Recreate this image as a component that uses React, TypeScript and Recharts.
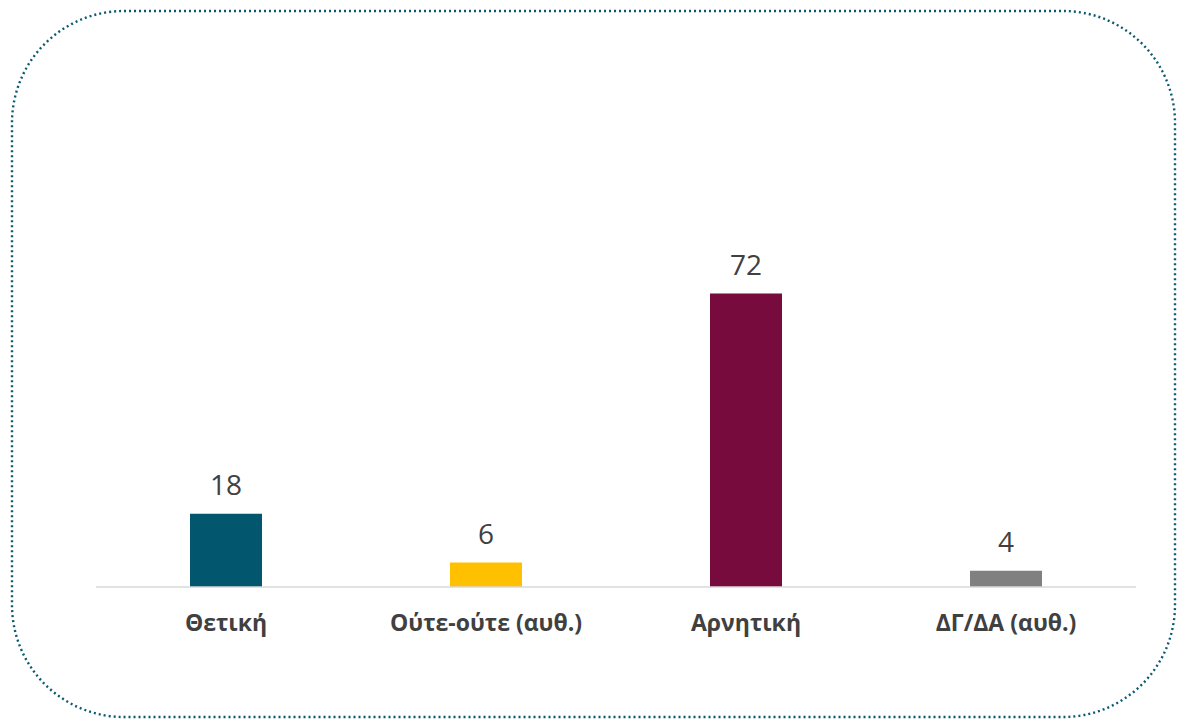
import React from "react";
import { BarChart, Bar, XAxis, YAxis, Cell, LabelList } from "recharts";

const categories = ["Θετική", "Ούτε-ούτε (αυθ.)", "Αρνητική", "ΔΓ/ΔΑ (αυθ.)"];
const values = [18, 6, 72, 4];
const colors = ["#02566D", "#FFC000", "#770B3D", "#808080"];

const data = categories.map((name, i) => ({ name, value: values[i] }));

const FONT = "'Open Sans', 'Noto Sans', sans-serif";

const CategoryTick = (props: any) => {
  const { x, y, payload } = props;
  return (
    <text
      x={x}
      y={y + 36}
      textAnchor="middle"
      fill="#404040"
      fontFamily={FONT}
      fontWeight={700}
      fontSize={23}
    >
      {payload.value}
    </text>
  );
};

export default function App() {
  return (
    <div style={{ position: "absolute", left: 0, top: 0, width: 1178, height: 721, background: "#fff" }}>
      <svg width={1178} height={721} style={{ position: "absolute", left: 0, top: 0 }}>
        <rect
          x={12}
          y={11}
          width={1163}
          height={706}
          rx={112}
          ry={112}
          fill="none"
          stroke="#0B5A72"
          strokeWidth={2.4}
          strokeDasharray="2 3"
        />
      </svg>
      <div style={{ position: "absolute", left: 0, top: 0 }}>
        <BarChart
          width={1178}
          height={721}
          data={data}
          margin={{ top: 261, right: 42, bottom: 74, left: 96 }}
          barSize={72}
        >
          <XAxis
            dataKey="name"
            axisLine={{ stroke: "#D9D9D9", strokeWidth: 1.5 }}
            tickLine={false}
            tick={<CategoryTick />}
            height={60}
            interval={0}
          />
          <YAxis hide domain={[0, 80]} />
          <Bar dataKey="value" isAnimationActive={false}>
            {data.map((d, i) => (
              <Cell key={d.name} fill={colors[i]} />
            ))}
            <LabelList
              dataKey="value"
              position="top"
              offset={19}
              fill="#404040"
              fontFamily={FONT}
              fontSize={28}
            />
          </Bar>
        </BarChart>
      </div>
    </div>
  );
}
